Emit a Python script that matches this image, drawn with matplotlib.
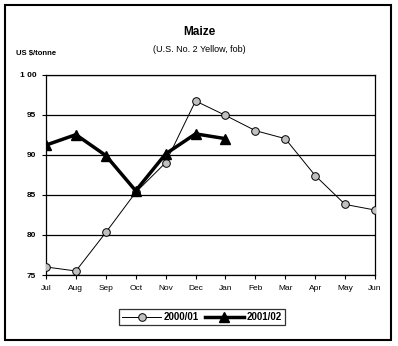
import matplotlib
matplotlib.use("Agg")
import matplotlib.pyplot as plt
from matplotlib.patches import Rectangle

plt.rcParams['font.family'] = ['Liberation Sans', 'DejaVu Sans']

months = ["Jul", "Aug", "Sep", "Oct", "Nov", "Dec", "Jan", "Feb", "Mar", "Apr", "May", "Jun"]
prices_2000_01 = [76.0, 75.5, 80.3, 85.3, 89.0, 96.7, 94.9, 93.0, 92.0, 87.4, 83.8, 83.1]
prices_2001_02 = [91.2, 92.5, 89.9, 85.5, 90.1, 92.6, 92.0]
y_ticks = [75, 80, 85, 90, 95, 100]
y_tick_labels = ["75", "80", "85", "90", "95", "1 00"]

fig = plt.figure(figsize=(3.98, 3.46), dpi=100)

# outer frame around the whole chart
fig.patches.append(Rectangle((5 / 398, 1 - 340 / 346), 386 / 398, 335 / 346,
                             transform=fig.transFigure, fill=False,
                             edgecolor="black", linewidth=1.5, zorder=0))

ax = fig.add_axes([46 / 398, 1 - 275 / 346, 329 / 398, 200.5 / 346])

x1 = list(range(len(prices_2000_01)))
x2 = list(range(len(prices_2001_02)))
ax.plot(x1, prices_2000_01, color="black", linewidth=0.7, marker="o",
        markersize=5.5, markerfacecolor="#c0c0c0", markeredgecolor="black",
        markeredgewidth=0.7, label="2000/01", zorder=3)
ax.plot(x2, prices_2001_02, color="black", linewidth=2.5, marker="^",
        markersize=7.5, markerfacecolor="black", markeredgecolor="black",
        label="2001/02", zorder=4)

ax.set_xlim(0, len(months) - 1)
ax.set_ylim(75, 100)
ax.set_xticks(range(len(months)))
ax.set_xticklabels(months, fontsize=6)
ax.set_yticks(y_ticks)
ax.set_yticklabels(y_tick_labels, fontsize=6, fontweight="bold")
ax.tick_params(axis="both", direction="out", length=3, width=0.8, colors="black", pad=4)
ax.yaxis.grid(True, color="black", linewidth=0.9)
ax.set_axisbelow(True)
for s in ax.spines.values():
    s.set_linewidth(0.9)
    s.set_color("black")

fig.text(199 / 398, 1 - 32 / 346, "Maize", ha="center", va="center",
         fontsize=8.5, fontweight="bold")
fig.text(199 / 398, 1 - 50 / 346, "(U.S. No. 2 Yellow, fob)", ha="center",
         va="center", fontsize=6.5)
fig.text(16 / 398, 1 - 54 / 346, "US $/tonne", ha="left", va="center",
         fontsize=5.5, fontweight="bold")

leg = fig.legend(loc="center", bbox_to_anchor=(202 / 398, 1 - 317 / 346), ncol=2,
                 frameon=True, fancybox=False, edgecolor="black",
                 prop={"size": 7, "weight": "bold"}, handlelength=4,
                 columnspacing=0.6, handletextpad=0.3, borderpad=0.3)
leg.get_frame().set_linewidth(0.9)

fig.savefig("out.png", dpi=100)
